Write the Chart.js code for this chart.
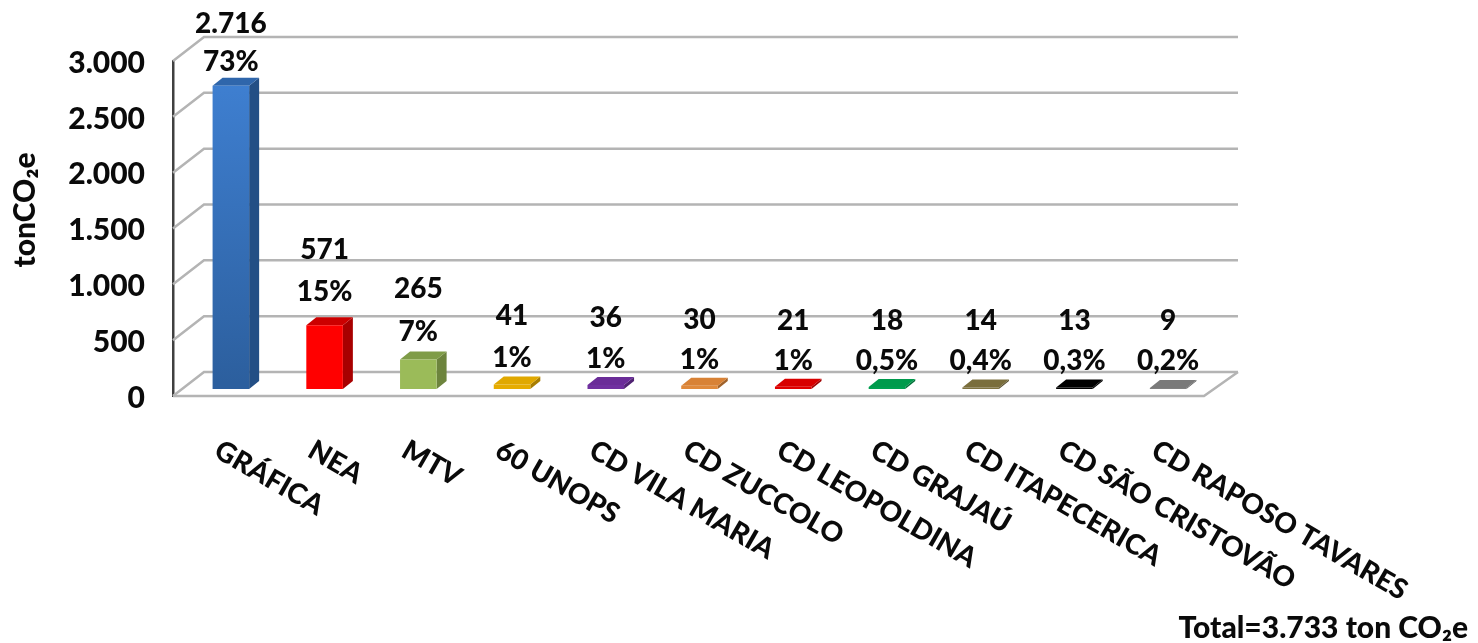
<!DOCTYPE html>
<html>
<head>
<meta charset="utf-8">
<title>tonCO2e</title>
<script src="https://cdn.jsdelivr.net/npm/chart.js@4"></script>
<style>
  body { margin: 0; background: #fff; }
  canvas { display: block; }
</style>
</head>
<body>
<canvas id="emissionsChart" width="1478" height="643"></canvas>
<script>
const categories = ['GRÁFICA', 'NEA', 'MTV', '60 UNOPS', 'CD VILA MARIA', 'CD ZUCCOLO', 'CD LEOPOLDINA',
    'CD GRAJAÚ', 'CD ITAPECERICA', 'CD SÃO CRISTOVÃO', 'CD RAPOSO TAVARES'];
const emissions = [2716, 571, 265, 41, 36, 30, 21, 18, 14, 13, 9];
const valueLabels = ['2.716', '571', '265', '41', '36', '30', '21', '18', '14', '13', '9'];
const shareLabels = ['73%', '15%', '7%', '1%', '1%', '1%', '1%', '0,5%', '0,4%', '0,3%', '0,2%'];
const yTicks = [0, 500, 1000, 1500, 2000, 2500, 3000];
const yTickLabels = ['0', '500', '1.000', '1.500', '2.000', '2.500', '3.000'];
const yTitle = 'tonCO₂e';
const totalNote = 'Total=3.733 ton CO₂e';

const frontColors = ['#3c7bcb', '#ff0000', '#9bbb59', '#e6ac00', '#7030a0', '#e08a3c', '#e00000', '#00a050', '#7f7340', '#000000', '#808080'];
const sideColors = ['#234f85', '#a80000', '#6d843d', '#a87e00', '#4f2272', '#a0622a', '#a00000', '#007038', '#5a5130', '#000000', '#5a5a5a'];
const topColors = ['#2f66ab', '#cc0000', '#7f9c48', '#e0a800', '#6a2c98', '#d88236', '#d80000', '#009a4c', '#7a6e3c', '#000000', '#7a7a7a'];

const FONT = 'Lato, sans-serif';
const WEIGHT = '900';
const TEXT = '#0a0a0a';
const GRID = '#b4b4b4';
// fake 3D: how far the back wall sits from the front of the floor, and the bars' depth
const WALL_DX = 31, WALL_DY = -24;
const BAR_DX = 11, BAR_DY = -7;
const DEPTH_DX = 10, DEPTH_DY = -8;
// gap between a bar's top and the share label, the picture doesn't keep it constant
const labelLift = [31, 40, 34, 33, 33, 33, 33, 33, 33, 34, 34];
const lineGap = [38, 42, 43, 42, 41, 40, 40, 40, 40, 40, 40];

const wallsPlugin = {
    id: 'walls',
    beforeDatasetsDraw(chart) {
        const { ctx, scales: { x, y } } = chart;
        const left = x.left, right = x.right;
        ctx.save();
        ctx.strokeStyle = GRID;
        ctx.lineWidth = 2.5;
        yTicks.forEach(function(v) {
            const py = y.getPixelForValue(v);
            ctx.beginPath();
            ctx.moveTo(left, py);
            ctx.lineTo(left + WALL_DX, py + WALL_DY);
            ctx.lineTo(right + 34, py + WALL_DY);
            ctx.stroke();
        });
        // floor
        const floor = y.getPixelForValue(0);
        ctx.beginPath();
        ctx.moveTo(left, floor);
        ctx.lineTo(right, floor);
        ctx.lineTo(right + 34, floor + WALL_DY);
        ctx.stroke();
        ctx.restore();

        // bars sit a bit inside the floor
        ctx.save();
        ctx.translate(BAR_DX, BAR_DY);
        chart.getDatasetMeta(0).data.forEach(function(bar, i) {
            const l = bar.x - bar.width / 2, r = bar.x + bar.width / 2;
            ctx.fillStyle = sideColors[i];
            ctx.beginPath();
            ctx.moveTo(r, bar.base);
            ctx.lineTo(r + DEPTH_DX, bar.base + DEPTH_DY);
            ctx.lineTo(r + DEPTH_DX, bar.y + DEPTH_DY);
            ctx.lineTo(r, bar.y);
            ctx.closePath();
            ctx.fill();
            ctx.fillStyle = topColors[i];
            ctx.beginPath();
            ctx.moveTo(l, bar.y);
            ctx.lineTo(l + DEPTH_DX, bar.y + DEPTH_DY);
            ctx.lineTo(r + DEPTH_DX, bar.y + DEPTH_DY);
            ctx.lineTo(r, bar.y);
            ctx.closePath();
            ctx.fill();
        });
    },
    afterDatasetsDraw(chart) {
        chart.ctx.restore();
    }
};

const textPlugin = {
    id: 'chartText',
    afterDraw(chart) {
        const { ctx, scales: { x, y } } = chart;
        ctx.save();
        ctx.fillStyle = TEXT;
        ctx.font = WEIGHT + ' 28px ' + FONT;
        ctx.textBaseline = 'middle';

        // values and shares above the bars
        ctx.textAlign = 'center';
        chart.getDatasetMeta(0).data.forEach(function(bar, i) {
            const cx = bar.x + BAR_DX;
            const shareY = bar.y - labelLift[i];
            ctx.fillText(shareLabels[i], cx, shareY);
            ctx.fillText(valueLabels[i], cx, shareY - lineGap[i]);
        });

        // category labels run down to the right, the axis can't do that on its own
        ctx.textAlign = 'left';
        categories.forEach(function(name, i) {
            ctx.save();
            ctx.translate(x.getPixelForTick(i) - 3, 448);
            ctx.rotate(30 * Math.PI / 180);
            ctx.fillText(name, 0, 0);
            ctx.restore();
        });

        // y tick labels sit slightly under their gridline
        ctx.textAlign = 'right';
        ctx.font = WEIGHT + ' 30px ' + FONT;
        yTicks.forEach(function(v, i) {
            ctx.fillText(yTickLabels[i], 145, y.getPixelForValue(v) + 2);
        });

        ctx.fillText(totalNote, 1468, 628);

        ctx.translate(25, 210);
        ctx.rotate(-Math.PI / 2);
        ctx.textAlign = 'center';
        ctx.fillText(yTitle, 0, 0);
        ctx.restore();
    }
};

const config = {
    type: 'bar',
    data: {
        labels: categories,
        datasets: [{
            data: emissions,
            clip: false,
            borderWidth: 0,
            barPercentage: 0.39,
            categoryPercentage: 1,
            backgroundColor: function(context) {
                if (context.dataIndex !== 0 || !context.chart.chartArea) {
                    return frontColors[context.dataIndex];
                }
                const g = context.chart.ctx.createLinearGradient(0, 80, 0, 390);
                g.addColorStop(0, '#3f80d2');
                g.addColorStop(1, '#2c5f9e');
                return g;
            }
        }]
    },
    options: {
        responsive: false,
        animation: false,
        layout: { padding: { top: 61, right: 274, bottom: 247, left: 0 } },
        plugins: {
            legend: { display: false },
            tooltip: { enabled: false }
        },
        scales: {
            x: {
                afterFit: function(scale) { scale.height = 0; },
                grid: { display: false },
                border: { display: false },
                ticks: { display: false }
            },
            y: {
                min: 0,
                max: 3000,
                afterFit: function(scale) { scale.width = 173; },
                afterBuildTicks: function(scale) {
                    scale.ticks = yTicks.map(function(v) { return { value: v }; });
                },
                grid: { display: false, drawTicks: false },
                border: { display: true, color: '#404040', width: 2.5 },
                ticks: { display: false }
            }
        }
    },
    plugins: [wallsPlugin, textPlugin]
};

new Chart(document.getElementById('emissionsChart').getContext('2d'), config);
</script>
</body>
</html>
